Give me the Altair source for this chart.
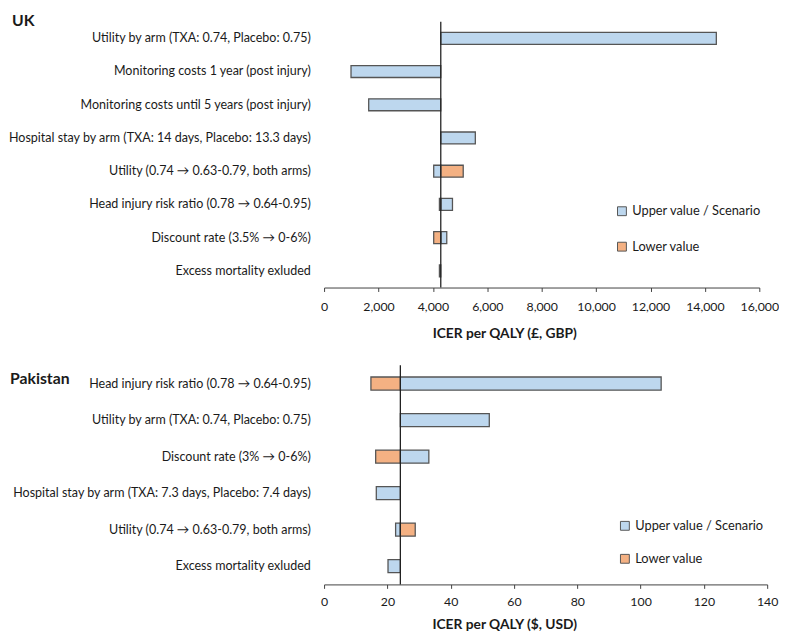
import altair as alt
import pandas as pd

FONT = "Lato, sans-serif"
BLUE = "#BDD7EE"
ORANGE = "#F4B183"
SERIES = ["Upper value / Scenario", "Lower value"]

# ---- UK data (ICER per QALY, GBP) ----
uk_params = [
    "Utility by arm (TXA: 0.74, Placebo: 0.75)",
    "Monitoring costs 1 year (post injury)",
    "Monitoring costs until 5 years (post injury)",
    "Hospital stay by arm (TXA: 14 days, Placebo: 13.3 days)",
    "Utility (0.74 \u2192 0.63-0.79, both arms)",
    "Head injury risk ratio (0.78 \u2192 0.64-0.95)",
    "Discount rate (3.5% \u2192 0-6%)",
    "Excess mortality exluded",
]
uk_base = 4290
uk_upper = [14420, 990, 1640, 5560, 4030, 4720, 4510, 4240]
uk_lower = [None, None, None, None, 5115, 4240, 4030, None]
uk_ticks = [0, 2000, 4000, 6000, 8000, 10000, 12000, 14000, 16000]

# ---- Pakistan data (ICER per QALY, USD) ----
pk_params = [
    "Head injury risk ratio (0.78 \u2192 0.64-0.95)",
    "Utility by arm (TXA: 0.74, Placebo: 0.75)",
    "Discount rate (3% \u2192 0-6%)",
    "Hospital stay by arm (TXA: 7.3 days, Placebo: 7.4 days)",
    "Utility (0.74 \u2192 0.63-0.79, both arms)",
    "Excess mortality exluded",
]
pk_base = 24.1
pk_upper = [106.5, 52.2, 33.1, 16.5, 22.6, 20.2]
pk_lower = [14.8, None, 16.3, None, 28.8, None]
pk_ticks = [0, 20, 40, 60, 80, 100, 120, 140]


def make_df(params, upper, lower, base):
    rows = []
    for p, u, l in zip(params, upper, lower):
        rows.append({"param": p, "series": SERIES[0], "value": u, "base": base})
        if l is not None:
            rows.append({"param": p, "series": SERIES[1], "value": l, "base": base})
    return pd.DataFrame(rows)


def panel(name, params, upper, lower, base, domain, ticks, fmt, xtitle,
          width, height, title_x, title_y, leg_x, leg_y, leg_pad,
          lab_pad, ttl_pad, axis_title_x):
    df = make_df(params, upper, lower, base)
    bars = alt.Chart(df).mark_bar(stroke="#555555", strokeWidth=1.3).encode(
        y=alt.Y("param:N", sort=params,
                scale=alt.Scale(paddingInner=0.64, paddingOuter=0.32),
                axis=alt.Axis(title=None, domain=False, ticks=False, grid=False,
                              labelPadding=14, labelFontSize=12.7, labelLimit=330,
                              labelFont=FONT, labelColor="#1a1a1a")),
        x=alt.X("value:Q",
                scale=alt.Scale(domain=domain, nice=False, zero=True),
                axis=alt.Axis(title=xtitle, values=ticks, format=fmt, grid=False,
                              labelOverlap=False, labelFlush=False,
                              tickSize=4, labelPadding=lab_pad, labelFontSize=12.5,
                              labelFont=FONT, labelColor="#1a1a1a",
                              domainColor="#404040", tickColor="#404040",
                              titleFont=FONT, titleFontSize=14, titleFontWeight="bold",
                              titleColor="#1a1a1a", titlePadding=ttl_pad,
                              titleX=axis_title_x, titleAlign="center")),
        x2="base:Q",
        color=alt.Color("series:N",
                        scale=alt.Scale(domain=SERIES, range=[BLUE, ORANGE]),
                        legend=alt.Legend(title=None, orient="none",
                                          legendX=leg_x, legendY=leg_y,
                                          symbolType="square", symbolSize=81,
                                          symbolStrokeColor="#555555",
                                          symbolStrokeWidth=1,
                                          labelFont=FONT, labelFontSize=13,
                                          labelColor="#1a1a1a", labelOffset=4,
                                          rowPadding=leg_pad, padding=0)),
    )
    rule = alt.Chart(pd.DataFrame({"base": [base]})).mark_rule(
        color="#222222", strokeWidth=1.3
    ).encode(x="base:Q")
    title = alt.Chart(pd.DataFrame({"t": [name]})).mark_text(
        align="left", baseline="top", font=FONT, fontSize=16,
        fontWeight="bold", color="#1a1a1a"
    ).encode(x=alt.value(title_x), y=alt.value(title_y), text="t:N")
    return alt.layer(bars, rule, title).properties(width=width, height=height)


uk = panel("UK", uk_params, uk_upper, uk_lower, uk_base, [0, 16000], uk_ticks,
           ",.0f", "ICER per QALY (\u00a3, GBP)", 442, 270,
           -317, -8.5, 296, 186, 22, 9, 14, 183)
pk = panel("Pakistan", pk_params, pk_upper, pk_lower, pk_base, [0, 140], pk_ticks,
           "d", "ICER per QALY ($, USD)", 450, 222.5,
           -319, 6, 299, 156.5, 19.5, 7, 10, 183)

chart = alt.vconcat(uk, pk, spacing=24).resolve_scale(
    x="independent", y="independent", color="independent"
).resolve_legend(color="independent").properties(
    padding={"left": 0, "top": 0, "right": 0, "bottom": 0}
).configure_view(stroke=None)

chart.save("out.html", embed_options={"renderer": "svg", "actions": False})
